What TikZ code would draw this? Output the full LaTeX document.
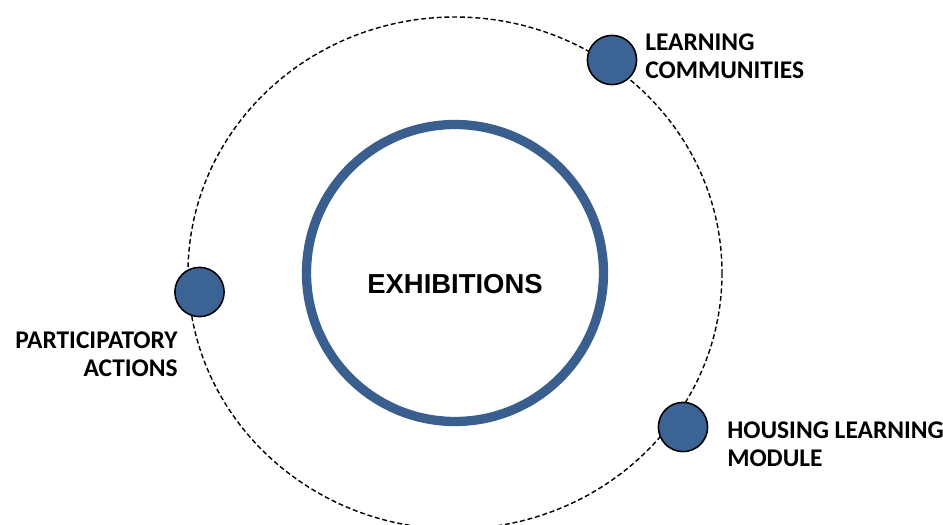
\documentclass[tikz,border=0pt]{standalone}
\usepackage{fontspec}
\setmainfont{Carlito}
\newfontfamily\titlefont{Liberation Sans}
\usetikzlibrary{positioning}

\definecolor{ringblue}{HTML}{3A5F8E}
\definecolor{dotblue}{HTML}{3B6494}

\tikzset{
  orbit/.style={draw=black, line width=1pt, dash pattern=on 3.5pt off 2pt},
  dot/.style={circle, draw=black, line width=1.1pt, fill=dotblue, minimum size=35pt, inner sep=0pt},
  label text/.style={font=\fontsize{18.1}{19.9}\selectfont\bfseries, inner sep=0pt}
}

\begin{document}
\begin{tikzpicture}[x=0.025cm, y=-0.025cm]
  \useasboundingbox (0,0) rectangle (943,525);

  % Outer dashed orbit
  \draw[orbit] (455,273) ellipse [x radius=267, y radius=256];

  % Centre ring
  \draw[ringblue, line width=6.6pt] (455,273) circle [radius=148.5];
  \node (exhibitions) at (455,284)
    {\titlefont\fontsize{19.5}{22}\selectfont\bfseries EXHIBITIONS};

  % Points on the orbit
  \node[dot] (learning) at (612,60) {};
  \node[dot] (participatory) at (199.5,292) {};
  \node[dot] (housing) at (683,427) {};

  % Labels
  \node[label text, anchor=west, align=left] (learninglabel) at (645,56)
    {LEARNING\\COMMUNITIES};
  \node[label text, anchor=east, align=right] (participatorylabel) at (178,354)
    {PARTICIPATORY\\ACTIONS};
  \node[label text, anchor=west, align=left] (housinglabel) at (727,444)
    {HOUSING LEARNING\\MODULE};
\end{tikzpicture}
\end{document}
